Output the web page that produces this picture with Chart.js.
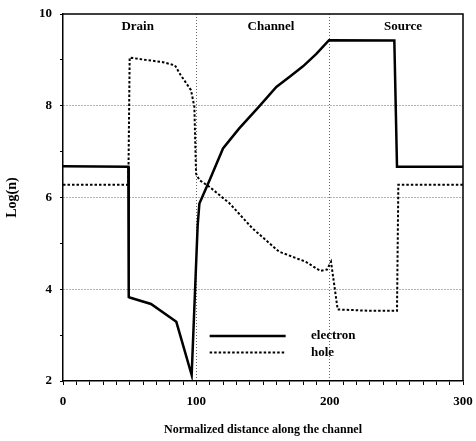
<!DOCTYPE html>
<html>
<head>
<meta charset="utf-8">
<script src="https://cdn.jsdelivr.net/npm/chart.js@4/dist/chart.umd.min.js"></script>
<style>
html, body { margin: 0; padding: 0; background: #fff; }
</style>
</head>
<body>
<canvas id="chart" width="476" height="441"></canvas>
<script>
// Electron concentration, Log(n) vs normalized distance
var electron_x = [0, 49, 49.3, 50, 66, 85, 96.5, 101, 102.3, 110, 120, 132, 147, 160, 170, 180, 190, 199.5, 248.5, 250.5, 300];
var electron_y = [6.68, 6.67, 3.83, 3.82, 3.68, 3.29, 2.13, 5.4, 5.87, 6.38, 7.07, 7.5, 7.98, 8.41, 8.63, 8.86, 9.13, 9.43, 9.42, 6.67, 6.67];

// Hole concentration
var hole_x = [0, 49, 50, 62, 75, 84, 88, 96, 98.5, 99.8, 102.3, 110, 125, 142, 162, 182, 193, 198, 201, 206, 230, 250.5, 251.5, 300];
var hole_y = [6.28, 6.28, 9.05, 9.0, 8.95, 8.88, 8.68, 8.34, 7.98, 6.52, 6.38, 6.23, 5.87, 5.33, 4.82, 4.6, 4.4, 4.43, 4.6, 3.56, 3.53, 3.53, 6.28, 6.28];

var series_labels = ['electron', 'hole'];
var region_labels = ['Drain', 'Channel', 'Source'];
var region_centers = [56, 156, 255];

var x_label = 'Normalized distance along the channel';
var y_label = 'Log(n)';

var serif = "'Liberation Serif', 'DejaVu Serif', serif";

function toPoints(xs, ys) {
	var pts = [];
	for (var i = 0; i < xs.length; i++) {
		pts.push({ x: xs[i], y: ys[i] });
	}
	return pts;
}

// frame, region names and the in-plot legend
var decorPlugin = {
	id: 'decor',
	afterDraw: function(chart) {
		var ctx = chart.ctx;
		var area = chart.chartArea;
		var xs = chart.scales.x, ys = chart.scales.y;
		ctx.save();
		// top and right border
		ctx.strokeStyle = '#000';
		ctx.lineWidth = 1.5;
		ctx.beginPath();
		ctx.moveTo(area.left, area.top);
		ctx.lineTo(area.right, area.top);
		ctx.lineTo(area.right, area.bottom);
		ctx.stroke();

		// region names
		ctx.fillStyle = '#000';
		ctx.font = 'bold 13px ' + serif;
		ctx.textAlign = 'center';
		ctx.textBaseline = 'middle';
		for (var i = 0; i < region_labels.length; i++) {
			ctx.fillText(region_labels[i], xs.getPixelForValue(region_centers[i]), ys.getPixelForValue(9.72));
		}

		// legend
		var ds = chart.data.datasets;
		var legY = [2.98, 2.62];
		ctx.textAlign = 'left';
		for (var j = 0; j < ds.length; j++) {
			var py = ys.getPixelForValue(legY[j]);
			ctx.beginPath();
			ctx.lineWidth = ds[j].borderWidth;
			ctx.setLineDash(ds[j].borderDash || []);
			ctx.moveTo(xs.getPixelForValue(110), py);
			ctx.lineTo(xs.getPixelForValue(167), py);
			ctx.stroke();
			ctx.setLineDash([]);
			ctx.fillText(ds[j].label, xs.getPixelForValue(186), py);
		}
		ctx.restore();
	}
};

var cfg = {
	type: 'scatter',
	data: {
		datasets: [
			{
				label: series_labels[0],
				data: toPoints(electron_x, electron_y),
				showLine: true,
				borderColor: '#000',
				backgroundColor: '#000',
				borderWidth: 2.5,
				pointRadius: 0,
				tension: 0
			},
			{
				label: series_labels[1],
				data: toPoints(hole_x, hole_y),
				showLine: true,
				borderColor: '#000',
				backgroundColor: '#000',
				borderWidth: 2,
				borderDash: [2.5, 2],
				pointRadius: 0,
				tension: 0
			}
		]
	},
	options: {
		responsive: false,
		animation: false,
		devicePixelRatio: 1,
		layout: { padding: { top: 14, right: 13, left: 0, bottom: 0 } },
		plugins: {
			legend: { display: false },
			tooltip: { enabled: false }
		},
		scales: {
			x: {
				type: 'linear',
				min: 0, max: 300,
				afterFit: function(s) { s.height = 60; s.paddingLeft = 0; s.paddingRight = 0; },
				ticks: {
					stepSize: 10,
					autoSkip: false,
					maxRotation: 0,
					padding: 9,
					color: '#000',
					font: { family: serif, size: 13, weight: 'bold' },
					callback: function(v) { return (v % 100 === 0) ? String(v) : ''; }
				},
				grid: {
					color: function(c) {
						var v = c.tick ? c.tick.value : null;
						return (v === 100 || v === 200) ? '#666' : 'rgba(0,0,0,0)';
					},
					tickColor: '#000',
					tickLength: 4,
					tickWidth: 1,
					lineWidth: 1
				},
				border: { display: true, color: '#000', width: 1.5, dash: [1, 2] },
				title: {
					display: true,
					text: x_label,
					color: '#000',
					font: { family: serif, size: 12, weight: 'bold' }
				}
			},
			y: {
				min: 2, max: 10,
				afterFit: function(s) { s.width = 63; s.paddingTop = 0; s.paddingBottom = 0; },
				ticks: {
					stepSize: 1,
					autoSkip: false,
					padding: 8,
					color: '#000',
					font: { family: serif, size: 13, weight: 'bold' },
					callback: function(v) { return (v % 2 === 0) ? String(v) : ''; }
				},
				grid: {
					color: function(c) {
						var v = c.tick ? c.tick.value : null;
						return (v === 4 || v === 6 || v === 8) ? '#666' : 'rgba(0,0,0,0)';
					},
					tickColor: '#000',
					tickLength: 3,
					tickWidth: 1,
					lineWidth: 1
				},
				border: { display: true, color: '#000', width: 1.5, dash: [1, 2] },
				title: {
					display: true,
					text: y_label,
					color: '#000',
					font: { family: serif, size: 14, weight: 'bold' }
				}
			}
		}
	},
	plugins: [decorPlugin]
};

new Chart(document.getElementById('chart'), cfg);
</script>
</body>
</html>
